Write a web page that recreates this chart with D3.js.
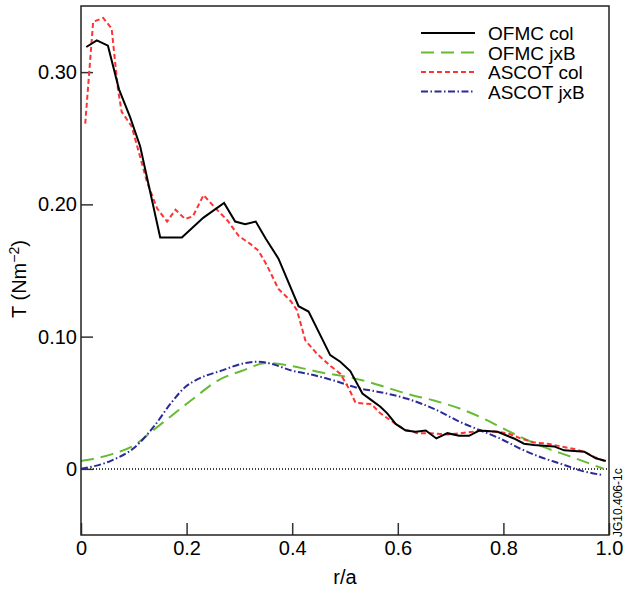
<!DOCTYPE html>
<html>
<head>
<meta charset="utf-8">
<title>Torque profiles</title>
<script src="https://cdn.jsdelivr.net/npm/d3@7/dist/d3.min.js"></script>
<style>
  body { margin: 0; background: #fff; }
  svg text { font-family: "Liberation Sans", Arial, Helvetica, sans-serif; fill: #000; }
  .axis text { font-size: 20px; }
  .axis line { stroke: #333; stroke-width: 1.5; }
</style>
</head>
<body>
<svg id="chart" width="628" height="592"></svg>
<script>
// OFMC col (solid black)
var ofmcColR = [0.01,0.03,0.051,0.072,0.093,0.112,0.15,0.191,0.232,0.271,0.292,0.311,0.331,0.35,0.374,0.412,0.431,0.472,0.491,0.51,0.533,0.55,0.567,0.58,0.596,0.615,0.634,0.653,0.673,0.694,0.716,0.735,0.754,0.789,0.82,0.839,0.858,0.896,0.915,0.953,0.975,0.994];
var ofmcColT = [0.319,0.324,0.320,0.287,0.266,0.244,0.175,0.175,0.190,0.201,0.187,0.185,0.187,0.174,0.159,0.123,0.119,0.086,0.081,0.074,0.057,0.052,0.047,0.042,0.034,0.029,0.028,0.029,0.023,0.027,0.025,0.025,0.029,0.028,0.023,0.019,0.018,0.017,0.014,0.013,0.008,0.006];

// ASCOT col (red short dash)
var ascotColR = [0.008,0.023,0.042,0.058,0.070,0.077,0.096,0.125,0.144,0.163,0.179,0.197,0.212,0.232,0.255,0.277,0.299,0.321,0.336,0.352,0.374,0.397,0.409,0.425,0.447,0.472,0.491,0.507,0.52,0.55,0.567,0.596,0.612,0.637,0.662,0.694,0.719,0.741,0.757,0.786,0.808,0.833,0.858,0.884,0.909,0.934,0.953,0.972,0.991];
var ascotColT = [0.261,0.338,0.341,0.333,0.287,0.270,0.259,0.217,0.197,0.187,0.196,0.189,0.191,0.207,0.197,0.188,0.176,0.170,0.165,0.154,0.136,0.127,0.120,0.097,0.087,0.078,0.072,0.061,0.050,0.049,0.042,0.034,0.030,0.027,0.027,0.026,0.027,0.028,0.029,0.028,0.027,0.023,0.020,0.019,0.017,0.015,0.013,0.009,0.006];

// OFMC jxB (green long dash)
var ofmcJxbR = [0.0,0.0575,0.105,0.13,0.171,0.2125,0.26,0.304,0.352,0.387,0.431,0.4535,0.491,0.5325,0.567,0.618,0.6685,0.719,0.757,0.795,0.833,0.877,0.922,0.96,0.99];
var ofmcJxbT = [0.006,0.011,0.019,0.027,0.040,0.053,0.067,0.074,0.080,0.0786,0.075,0.073,0.0705,0.067,0.063,0.0567,0.0517,0.0454,0.039,0.0315,0.024,0.0164,0.010,0.0045,0.0];

// ASCOT jxB (blue dash-dot)
var ascotJxbR = [0.0,0.0575,0.102,0.137,0.171,0.197,0.222,0.266,0.311,0.336,0.361,0.399,0.431,0.479,0.526,0.567,0.618,0.6685,0.719,0.757,0.795,0.833,0.871,0.909,0.947,0.985];
var ascotJxbT = [0.0,0.0063,0.0164,0.0315,0.050,0.0618,0.068,0.0743,0.080,0.081,0.0794,0.0743,0.0718,0.0668,0.061,0.058,0.053,0.0454,0.0353,0.029,0.0227,0.0151,0.0088,0.0038,-0.0013,-0.0045];

var xTicks = [0, 0.2, 0.4, 0.6, 0.8, 1.0];
var yTicks = [0, 0.10, 0.20, 0.30];
var seriesNames = ["OFMC col", "OFMC jxB", "ASCOT col", "ASCOT jxB"];

var margin = {top: 6, right: 19, bottom: 57, left: 81},
    width = 628 - margin.left - margin.right,
    height = 592 - margin.top - margin.bottom;

var x = d3.scaleLinear().domain([0, 1]).range([0, width]);
var y = d3.scaleLinear().domain([-0.05, 0.35]).range([height, 0]);

var svg = d3.select("#chart");
var chart = svg.append("g")
  .attr("transform", "translate(" + margin.left + "," + margin.top + ")");

chart.append("clipPath").attr("id", "plotclip")
  .append("rect").attr("width", width).attr("height", height);

// zero line
chart.append("line")
  .attr("x1", 0).attr("x2", width)
  .attr("y1", y(0)).attr("y2", y(0))
  .attr("stroke", "#000").attr("stroke-width", 1.5)
  .attr("stroke-dasharray", "1,2");

var xAxis = d3.axisBottom(x)
  .tickValues(xTicks)
  .tickSizeInner(-12).tickSizeOuter(0).tickPadding(6)
  .tickFormat(function(d){ return d === 0 ? "0" : d3.format(".1f")(d); });
var yAxis = d3.axisLeft(y)
  .tickValues(yTicks)
  .tickSizeInner(-12).tickSizeOuter(0).tickPadding(4)
  .tickFormat(function(d){ return d === 0 ? "0" : d3.format(".2f")(d); });

chart.append("g").attr("class", "axis")
  .attr("transform", "translate(0," + height + ")")
  .call(xAxis)
  .call(function(g){ g.select(".domain").remove(); });
chart.append("g").attr("class", "axis")
  .call(yAxis)
  .call(function(g){ g.select(".domain").remove(); });

var series = [
  {name: seriesNames[0], r: ofmcColR, t: ofmcColT, color: "#000000", dash: null, w: 2, curve: d3.curveLinear},
  {name: seriesNames[1], r: ofmcJxbR, t: ofmcJxbT, color: "#66bb33", dash: "13,7", w: 2, curve: d3.curveMonotoneX},
  {name: seriesNames[2], r: ascotColR, t: ascotColT, color: "#ff3333", dash: "5,3", w: 2, curve: d3.curveLinear},
  {name: seriesNames[3], r: ascotJxbR, t: ascotJxbT, color: "#2a2a99", dash: "7,2.5,1.5,2.5", w: 2, curve: d3.curveMonotoneX}
];

var plot = chart.append("g").attr("clip-path", "url(#plotclip)");
// draw jxB first, col on top
[1, 3, 2, 0].forEach(function(i){
  var s = series[i];
  var pts = s.r.map(function(r, k){ return [r, s.t[k]]; });
  var line = d3.line()
    .x(function(d){ return x(d[0]); })
    .y(function(d){ return y(d[1]); })
    .curve(s.curve);
  plot.append("path")
    .datum(pts)
    .attr("fill", "none")
    .attr("stroke", s.color)
    .attr("stroke-width", s.w)
    .attr("stroke-dasharray", s.dash)
    .attr("d", line);
});

// frame
chart.append("rect")
  .attr("width", width).attr("height", height)
  .attr("fill", "none").attr("stroke", "#222").attr("stroke-width", 1.5);

// legend
var legend = chart.append("g").attr("transform", "translate(" + (421 - margin.left) + "," + (33 - margin.top) + ")");
series.forEach(function(s, i){
  var g = legend.append("g").attr("transform", "translate(0," + (i * 19.5) + ")");
  g.append("line").attr("x1", 0).attr("x2", 54).attr("y1", 0).attr("y2", 0)
    .attr("stroke", s.color).attr("stroke-width", s.w)
    .attr("stroke-dasharray", s.dash);
  g.append("text").attr("x", 67).attr("y", 7)
    .style("font-size", "19px").text(s.name);
});

// axis titles
svg.append("text")
  .attr("x", margin.left + x(0.5)).attr("y", 584)
  .attr("text-anchor", "middle").style("font-size", "20px")
  .text("r/a");

var yl = svg.append("text")
  .attr("transform", "translate(26,279) rotate(-90)")
  .attr("text-anchor", "middle").style("font-size", "20px");
yl.append("tspan").text("T (Nm");
yl.append("tspan").attr("dy", -7).style("font-size", "14px").text("\u22122");
yl.append("tspan").attr("dy", 7).text(")");

svg.append("text")
  .attr("transform", "translate(622,537) rotate(-90)")
  .style("font-size", "12px")
  .text("JG10.406-1c");
</script>
</body>
</html>
